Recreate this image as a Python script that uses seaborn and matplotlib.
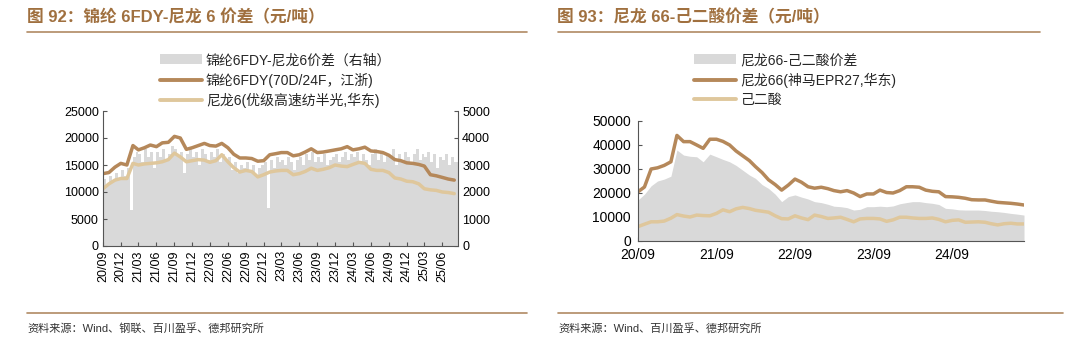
import numpy as np
import pandas as pd
import matplotlib
matplotlib.use("Agg")
import matplotlib.pyplot as plt
from matplotlib.patches import Patch
from matplotlib.lines import Line2D
import seaborn as sns

# ---------------- data: left chart (monthly, 2020-09 .. 2025-08) ----------------
fdy_price = [13400, 13600, 14600, 15300, 15000, 18600, 17800, 18200, 18700, 18400,
             19100, 19200, 20300, 20000, 17900, 18200, 18600, 19000, 18600, 18500,
             19000, 18200, 17000, 16300, 16300, 16200, 15700, 15800, 16900, 17100,
             17300, 17300, 16700, 16900, 17400, 18000, 17300, 17400, 17600, 17800,
             18000, 18400, 17800, 18000, 18300, 17600, 17500, 17300, 16800, 16000,
             15800, 15400, 15300, 15100, 14800, 13200, 13000, 12700, 12400, 12200]
pa6_chip = [10600, 11500, 12200, 12500, 12500, 15300, 15000, 15200, 15300, 15400,
            15600, 16000, 17200, 16500, 15600, 15800, 16000, 15900, 15500, 15800,
            16900, 15600, 14500, 13700, 14000, 13800, 12800, 13200, 13700, 13900,
            14000, 14000, 13200, 13400, 13800, 14400, 14000, 14200, 14500, 15000,
            14800, 14700, 15100, 15500, 15300, 14200, 14000, 14000, 13600, 12600,
            12400, 12000, 11900, 11500, 10600, 10400, 10300, 10000, 9900, 9700]
# spread, semi-monthly (right axis)
fdy_spread = [2500, 2300, 2600, 2400, 2700, 2500,
              2800, 2600, 2900, 1350, 3300, 3500,
              3400, 3100, 3600, 3300, 3500, 2900,
              3500, 3300, 3600, 3200, 3400, 3700,
              3600, 3300, 3500, 2700, 3400, 3600,
              3300, 3500, 3000, 3600, 3400, 3200,
              3500, 3300, 3600, 3100, 3400, 3200,
              3300, 2800, 3100, 2700, 3000, 2900,
              3100, 2800, 3000, 2600, 2900, 3000,
              3100, 1400, 3200, 2900, 3300, 3100,
              3200, 3000, 3300, 3100, 2800, 3200,
              3300, 3000, 3400, 3200, 3500, 3100,
              3300, 3100, 3400, 3000, 3200, 3300,
              3400, 3100, 3300, 3500, 3200, 3400,
              3300, 3500, 3100, 3400, 3200, 3000,
              3400, 3600, 3200, 3500, 3100, 3400,
              3300, 3600, 3000, 3400, 3200, 3500,
              3300, 3100, 3400, 3600, 3200, 3400,
              3300, 3500, 3100, 3400, 2900, 3300,
              3200, 3400, 3000, 3300, 3100]
left_ticklabels = ["20/09", "20/12", "21/03", "21/06", "21/09", "21/12", "22/03",
                   "22/06", "22/09", "22/12", "23/03", "23/06", "23/09", "23/12",
                   "24/03", "24/06", "24/09", "24/12", "25/03", "25/06"]

# ---------------- data: right chart (monthly, 2020-09 .. 2025-08) ----------------
pa66_price = [20500, 22500, 30000, 30500, 31500, 33000, 44000, 41400, 41400, 40000,
              38600, 42400, 42400, 41500, 40000, 37500, 35500, 33500, 31000, 28500,
              25500, 23500, 21200, 23300, 25800, 24500, 22600, 22000, 22400, 21800,
              21000, 20500, 21000, 20000, 18500, 19600, 19600, 21200, 20200, 20000,
              21000, 22600, 22600, 22400, 21200, 20700, 20500, 18500, 18400, 18200,
              17800, 17200, 17100, 17100, 16600, 16100, 15900, 15700, 15400, 15000]
adipic_price = [6000, 7000, 8000, 8000, 8300, 9500, 11000, 10400, 10000, 10800,
                10600, 10500, 11500, 13000, 12200, 13400, 14000, 13500, 12800, 12400,
                12000, 10500, 9300, 9200, 10500, 9600, 8900, 10800, 10200, 9400,
                9600, 9900, 9000, 8000, 9200, 9400, 9400, 9200, 8200, 8800,
                9900, 9900, 9600, 9400, 9400, 9600, 9000, 8000, 8600, 8800,
                7800, 7900, 8000, 7800, 7200, 6700, 7200, 7400, 7100, 7100]
pa66_spread = [17100, 19500, 23000, 25000, 25800, 27000, 37900, 35800, 35300, 35100,
               33000, 36200, 35100, 34000, 33000, 31500, 29500, 27500, 26100, 23500,
               21900, 19500, 16400, 18500, 19200, 18300, 17500, 16400, 16000, 15300,
               14500, 14300, 13900, 12900, 13200, 14300, 14300, 14500, 14300, 14600,
               15500, 16000, 16400, 16400, 16000, 15700, 15200, 13600, 13400, 13000,
               12900, 12900, 12900, 12700, 12400, 12200, 11900, 11500, 11200, 10800]
right_ticklabels = ["20/09", "21/09", "22/09", "23/09", "24/09"]

# ---------------- style ----------------
DARK = "#b5885a"
LIGHT = "#dfc79c"
GRAY = "#d9d9d9"
TITLE_C = "#a0703f"
RULE_C = "#b08a64"
AX_C = "#555555"

sns.set_theme(style="ticks")
plt.rcParams["font.family"] = ["Liberation Sans", "Noto Sans CJK SC", "DejaVu Sans"]
CJK = ["Noto Sans CJK SC", "DejaVu Sans"]
MIX = ["Liberation Sans", "Noto Sans CJK SC", "DejaVu Sans"]

fig = plt.figure(figsize=(10.8, 3.42), dpi=100)
W, H = 1080, 342


def px_axes(l, t, r, b):
    return fig.add_axes([l / W, (H - b) / H, (r - l) / W, (b - t) / H])


months = pd.date_range("2020-09-01", periods=60, freq="MS")
semi = []
for m in months:
    semi.append(m)
    semi.append(m + pd.Timedelta(days=15))
semi = semi[:len(fdy_spread)]
x_end = pd.Timestamp("2025-08-20")

df_left = pd.DataFrame({"date": months, "fdy": fdy_price, "chip": pa6_chip})
df_spread = pd.DataFrame({"date": semi, "spread": fdy_spread})
df_right = pd.DataFrame({"date": months, "pa66": pa66_price, "adipic": adipic_price,
                         "spread": pa66_spread})

# ---------------- left chart ----------------
axL = px_axes(103, 111, 458, 246)
axR2 = axL.twinx()
axL.set_zorder(axR2.get_zorder() + 1)
axL.patch.set_visible(False)

sx = list(df_spread["date"]) + [x_end]
sy = list(df_spread["spread"]) + [fdy_spread[-1]]
axR2.fill_between(sx, 0, sy, step="post", color=GRAY, lw=0)
axR2.set_ylim(0, 5000)
axR2.set_yticks(range(0, 5001, 1000))

sns.lineplot(data=df_left, x="date", y="fdy", ax=axL, color=DARK, lw=2.5, legend=False)
sns.lineplot(data=df_left, x="date", y="chip", ax=axL, color=LIGHT, lw=2.5, legend=False)
axL.set_ylim(0, 25000)
axL.set_yticks(range(0, 25001, 5000))
axL.set_xlim(months[0], x_end)
ticks = pd.date_range("2020-09-01", periods=20, freq="3MS")
axL.set_xticks(ticks)
axL.set_xticklabels(left_ticklabels, rotation=90)
axL.set_xlabel("")
axL.set_ylabel("")

for ax in (axL, axR2):
    ax.tick_params(direction="in", length=3, width=0.8, colors=AX_C,
                   labelcolor="#000000", labelsize=9, pad=3)
    for s in ax.spines.values():
        s.set_color(AX_C)
        s.set_linewidth(0.8)
    ax.spines["top"].set_visible(False)
axL.spines["right"].set_visible(False)
axR2.spines["left"].set_visible(False)
axR2.spines["bottom"].set_visible(False)

# ---------------- right chart ----------------
axB = px_axes(638, 121, 1024, 241)
axB.fill_between(df_right["date"], 0, df_right["spread"], color=GRAY, lw=0)
sns.lineplot(data=df_right, x="date", y="pa66", ax=axB, color=DARK, lw=2.5, legend=False)
sns.lineplot(data=df_right, x="date", y="adipic", ax=axB, color=LIGHT, lw=2.5, legend=False)
axB.set_ylim(0, 50000)
axB.set_yticks(range(0, 50001, 10000))
axB.set_xlim(months[0], months[-1])
axB.set_xticks(pd.date_range("2020-09-01", periods=5, freq="12MS"))
axB.set_xticklabels(right_ticklabels)
axB.set_xlabel("")
axB.set_ylabel("")
axB.tick_params(direction="in", length=3, width=0.8, colors=AX_C,
                labelcolor="#000000", labelsize=10, pad=5)
for s in axB.spines.values():
    s.set_color(AX_C)
    s.set_linewidth(0.8)
axB.spines["top"].set_visible(False)
axB.spines["right"].set_visible(False)

# ---------------- legends ----------------
leg_font = {"family": MIX, "size": 10}
hL = [Patch(facecolor=GRAY, edgecolor="none"),
      Line2D([], [], color=DARK, lw=2.8),
      Line2D([], [], color=LIGHT, lw=2.8)]
fig.legend(hL, ["锦纶6FDY-尼龙6价差（右轴）", "锦纶6FDY(70D/24F，江浙)", "尼龙6(优级高速纺半光,华东)"],
           loc="upper left", bbox_to_anchor=(160 / W, 1 - 53 / H), frameon=False,
           prop=leg_font, handlelength=3.0, handletextpad=0.3, labelspacing=0.4,
           borderaxespad=0, borderpad=0)
fig.legend(hL, ["尼龙66-己二酸价差", "尼龙66(神马EPR27,华东)", "己二酸"],
           loc="upper left", bbox_to_anchor=(694 / W, 1 - 53 / H), frameon=False,
           prop=leg_font, handlelength=3.0, handletextpad=0.3, labelspacing=0.4,
           borderaxespad=0, borderpad=0)

# ---------------- titles, rules, sources ----------------
fig.text(27 / W, 1 - 17 / H, "图 92：锦纶 6FDY-尼龙 6 价差（元/吨）", family=MIX,
         fontsize=12, fontweight="bold", color=TITLE_C, va="center", ha="left")
fig.text(557 / W, 1 - 17 / H, "图 93：尼龙 66-己二酸价差（元/吨）", family=MIX,
         fontsize=12, fontweight="bold", color=TITLE_C, va="center", ha="left")
for x0, x1 in ((27, 527), (558, 1040)):
    fig.add_artist(Line2D([x0 / W, x1 / W], [1 - 32 / H, 1 - 32 / H], color=RULE_C, lw=1.2))
for x0, x1 in ((27, 527), (558, 1063)):
    fig.add_artist(Line2D([x0 / W, x1 / W], [1 - 313 / H, 1 - 313 / H], color=RULE_C, lw=1.2))
fig.text(27 / W, 1 - 328 / H, "资料来源：Wind、钢联、百川盈孚、德邦研究所", family=MIX,
         fontsize=8, color="#333333", va="center", ha="left")
fig.text(558 / W, 1 - 328 / H, "资料来源：Wind、百川盈孚、德邦研究所", family=MIX,
         fontsize=8, color="#333333", va="center", ha="left")

fig.savefig("out.png", dpi=100, facecolor="white")
